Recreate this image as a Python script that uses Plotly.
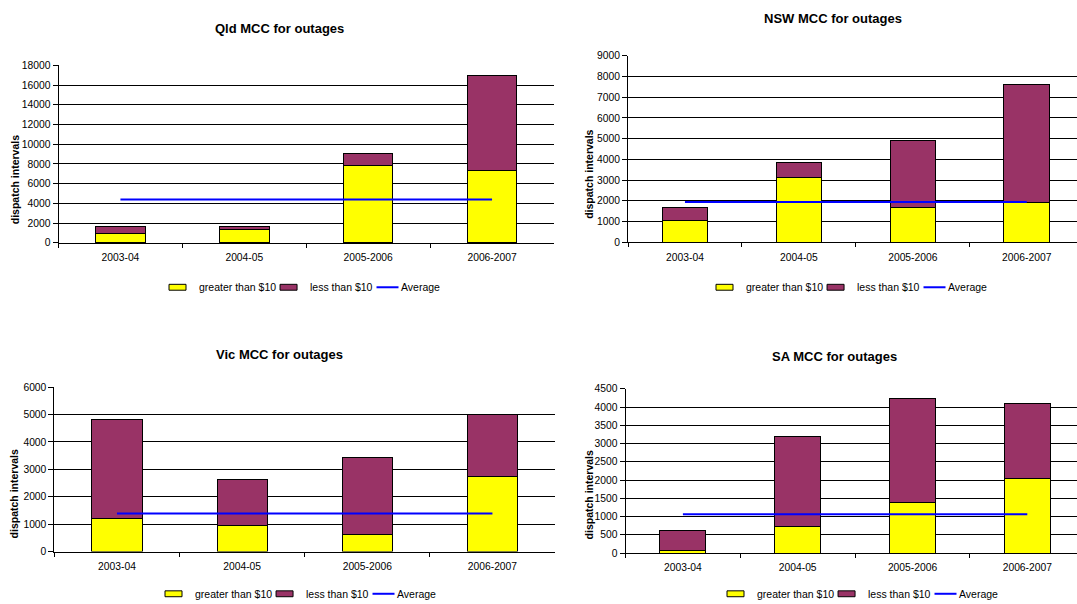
import plotly.graph_objects as go

W, H = 1077, 604

categories = ["2003-04", "2004-05", "2005-2006", "2006-2007"]

# Dispatch intervals per year, split by price band, plus the average line
qld_above = [1000, 1400, 7800, 7380]
qld_below = [700, 230, 1270, 9630]
qld_average = [4400, 4400, 4400, 4400]

nsw_above = [1050, 3150, 1690, 1900]
nsw_below = [650, 680, 3240, 5730]
nsw_average = [1950, 1950, 1950, 1950]

vic_above = [1220, 950, 620, 2750]
vic_below = [3600, 1680, 2820, 2270]
vic_average = [1385, 1385, 1385, 1385]

sa_above = [80, 740, 1400, 2040]
sa_below = [530, 2460, 2830, 2060]
sa_average = [1065, 1065, 1065, 1065]

series_names = ["greater than $10", "less than $10", "Average"]
YELLOW = "#FFFF00"
PLUM = "#993366"
BLUE = "#0000FF"
FONT = "Arial, Liberation Sans, sans-serif"
LEGEND_SIZE = 10.5

# Panel geometry in pixels (plot area edges, title / axis-title / legend anchors)
panels = [
    dict(title="Qld MCC for outages", above=qld_above, below=qld_below, avg=qld_average,
         ymax=18000, dtick=2000, left=58.5, right=554, top=61.5, bottom=242.3,
         title_xy=(279, 24), ytitle_xy=(14.5, 178), legend_xy=(169, 287.5)),
    dict(title="NSW MCC for outages", above=nsw_above, below=nsw_below, avg=nsw_average,
         ymax=9000, dtick=1000, left=628, right=1083.7, top=51.7, bottom=241.7,
         title_xy=(833, 14), ytitle_xy=(589, 173), legend_xy=(716, 287.5)),
    dict(title="Vic MCC for outages", above=vic_above, below=vic_below, avg=vic_average,
         ymax=6000, dtick=1000, left=54.4, right=555, top=389.3, bottom=556.7,
         title_xy=(279, 356), ytitle_xy=(14, 498.5), legend_xy=(165, 599.7)),
    dict(title="SA MCC for outages", above=sa_above, below=sa_below, avg=sa_average,
         ymax=4500, dtick=500, left=625.5, right=1084.7, top=391, bottom=558.3,
         title_xy=(834, 358.5), ytitle_xy=(588.5, 499), legend_xy=(727, 599.7)),
]

# Arial advance widths (em) used to lay out the legend rows
CHAR_W = {" ": .278, "$": .556, "0": .556, "1": .556, "a": .556, "e": .556, "g": .556,
          "h": .556, "l": .222, "n": .556, "r": .333, "s": .5, "t": .278, "v": .5,
          "A": .667}


def text_w(s, size):
    return sum(CHAR_W.get(c, .556) for c in s) * size


def fx(p):
    return p / W


def fy(p):
    return 1 - p / H


fig = go.Figure()
annotations = []
shapes = []
layout_axes = {}

for i, p in enumerate(panels):
    n = "" if i == 0 else str(i + 1)
    xa, ya = "x" + n, "y" + n

    fig.add_trace(go.Bar(x=categories, y=p["above"], name=series_names[0],
                         marker=dict(color=YELLOW, line=dict(color="#000000", width=1)),
                         width=0.4, xaxis=xa, yaxis=ya, showlegend=False))
    fig.add_trace(go.Bar(x=categories, y=p["below"], name=series_names[1],
                         marker=dict(color=PLUM, line=dict(color="#000000", width=1)),
                         width=0.4, xaxis=xa, yaxis=ya, showlegend=False))
    fig.add_trace(go.Scatter(x=categories, y=p["avg"], name=series_names[2], mode="lines",
                             line=dict(color=BLUE, width=2), xaxis=xa, yaxis=ya,
                             showlegend=False))

    full_w = p["right"] - p["left"]
    vis_right = min(p["right"], W)
    x_end = -0.5 + 4 * (vis_right - p["left"]) / full_w

    layout_axes["xaxis" + n] = dict(
        domain=[fx(p["left"]), fx(vis_right)], anchor=ya, type="category",
        range=[-0.5, x_end], showgrid=False, showline=True, linecolor="#000000",
        linewidth=1, ticks="outside", tickson="boundaries", ticklen=4,
        tickcolor="#000000", tickfont=dict(family=FONT, size=10.3, color="#000000"),
        ticklabelstandoff=5, fixedrange=True,
    )
    layout_axes["yaxis" + n] = dict(
        domain=[fy(p["bottom"]), fy(p["top"])], anchor=xa, range=[0, p["ymax"]],
        dtick=p["dtick"], tick0=0, tickformat="d", showgrid=True, gridcolor="#000000",
        gridwidth=1, showline=True, linecolor="#000000", linewidth=1, ticks="outside",
        ticklen=5, tickcolor="#000000", zeroline=False,
        tickfont=dict(family=FONT, size=10.3, color="#000000"), fixedrange=True,
    )

    # chart title
    annotations.append(dict(text="<b>" + p["title"] + "</b>", x=fx(p["title_xy"][0]),
                            y=fy(p["title_xy"][1]), xref="paper", yref="paper",
                            xanchor="center", yanchor="middle", showarrow=False,
                            font=dict(family=FONT, size=13, color="#000000")))
    # value axis title
    annotations.append(dict(text="<b>dispatch intervals</b>", x=fx(p["ytitle_xy"][0]),
                            y=fy(p["ytitle_xy"][1]), xref="paper", yref="paper",
                            xanchor="center", yanchor="middle", textangle=-90,
                            showarrow=False,
                            font=dict(family=FONT, size=10.5, color="#000000")))

    # legend row under each panel: key, gap, label, gap, key, ...
    lx, ly = p["legend_xy"]
    key_w, key_h = 17, 6
    cursor = lx
    for k, col in enumerate((YELLOW, PLUM)):
        shapes.append(dict(type="rect", xref="paper", yref="paper",
                           x0=fx(cursor), x1=fx(cursor + key_w), y0=fy(ly + key_h / 2),
                           y1=fy(ly - key_h / 2), fillcolor=col,
                           line=dict(color="#000000", width=1)))
        cursor += key_w + 11
        annotations.append(dict(text=series_names[k], x=fx(cursor), y=fy(ly),
                                xref="paper", yref="paper", xanchor="left",
                                yanchor="middle", showarrow=False,
                                font=dict(family=FONT, size=LEGEND_SIZE, color="#000000")))
        cursor += text_w(series_names[k], LEGEND_SIZE) + 6
    shapes.append(dict(type="line", xref="paper", yref="paper",
                       x0=fx(cursor), x1=fx(cursor + 22), y0=fy(ly), y1=fy(ly),
                       line=dict(color=BLUE, width=2)))
    cursor += 22
    annotations.append(dict(text=series_names[2], x=fx(cursor), y=fy(ly), xref="paper",
                            yref="paper", xanchor="left", yanchor="middle",
                            showarrow=False,
                            font=dict(family=FONT, size=LEGEND_SIZE, color="#000000")))

fig.update_layout(
    width=W, height=H, autosize=False,
    margin=dict(l=0, r=0, t=0, b=0),
    paper_bgcolor="#FFFFFF", plot_bgcolor="#FFFFFF",
    barmode="stack", showlegend=False,
    annotations=annotations, shapes=shapes,
    font=dict(family=FONT, color="#000000"),
    **layout_axes,
)

fig.write_html("out.html")
